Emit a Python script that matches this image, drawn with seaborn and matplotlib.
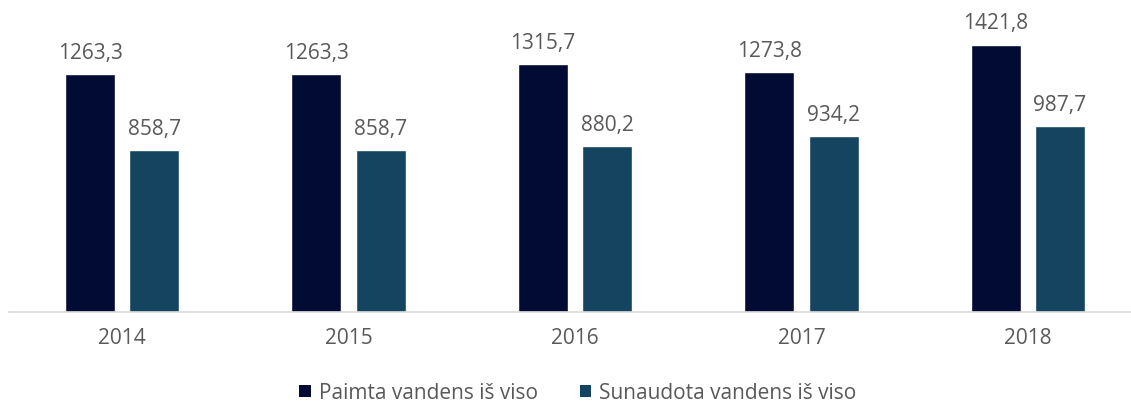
import matplotlib
matplotlib.use("Agg")
import matplotlib.pyplot as plt
import seaborn as sns
import pandas as pd
from matplotlib.patches import Patch

years = ["2014", "2015", "2016", "2017", "2018"]
series_names = ["Paimta vandens iš viso", "Sunaudota vandens iš viso"]
paimta = [1263.3, 1263.3, 1315.7, 1273.8, 1421.8]
sunaudota = [858.7, 858.7, 880.2, 934.2, 987.7]
colors = ["#020b34", "#154460"]

df = pd.DataFrame({
    "year": years * 2,
    "series": [series_names[0]] * len(years) + [series_names[1]] * len(years),
    "value": paimta + sunaudota,
})

sns.set_theme(style="white")
plt.rcParams["font.family"] = ["Open Sans", "DejaVu Sans"]
text_color = "#595959"

fig = plt.figure(figsize=(11.31, 4.06), dpi=100)
ax = fig.add_axes([9 / 1131, 93 / 406, 1132 / 1131, 301 / 406])

sns.barplot(data=df, x="year", y="value", hue="series", palette=colors,
            width=0.568, gap=0.222, ax=ax, legend=False, saturation=1)

for cont in ax.containers:
    ax.bar_label(cont, labels=[f"{v:.1f}".replace(".", ",") for v in cont.datavalues],
                 padding=8, fontsize=15, color=text_color)

ax.set_xlim(-0.5, 4.5)
ax.set_ylim(0, 1600)
ax.set_xlabel("")
ax.set_ylabel("")
ax.set_yticks([])
for side in ["left", "right", "top"]:
    ax.spines[side].set_visible(False)
ax.spines["bottom"].set_color("#d9d9d9")
ax.spines["bottom"].set_linewidth(1.2)
ax.tick_params(axis="x", length=0, pad=11, labelsize=15, labelcolor=text_color)

handles = [Patch(facecolor=c, edgecolor="none") for c in colors]
fig.legend(handles, series_names, loc="center", bbox_to_anchor=(578 / 1131, 1 - 394 / 406),
           ncol=2, frameon=False, fontsize=15, labelcolor=text_color,
           handlelength=0.55, handleheight=0.55, handletextpad=0.4, columnspacing=2.0,
           borderpad=0.2)

fig.savefig("out.png", dpi=100)
